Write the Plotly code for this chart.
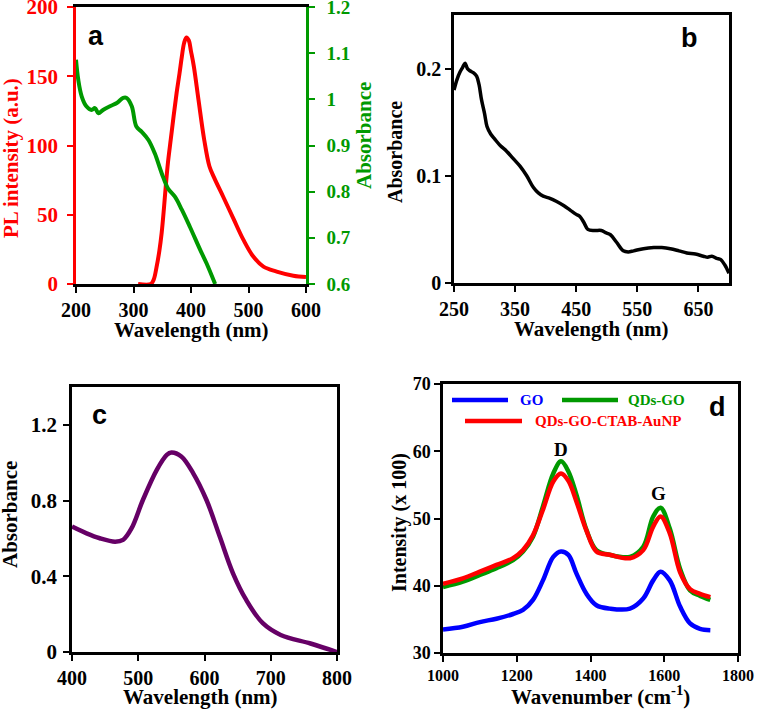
import plotly.graph_objects as go

# ---------------- data ----------------
# Panel a: PL emission (left axis) and absorbance (right axis)
pl_wl = [308, 330, 335, 340, 345, 349, 353, 356, 360, 365, 370, 375, 380, 384, 388, 392, 396, 400,
         405, 413, 423, 432, 440, 456, 474, 491, 508, 526, 549, 578, 600]
pl_int = [0, 0, 3, 12, 24, 37, 55, 70, 88, 105, 122, 138, 152, 164, 174, 178, 176, 168,
          157, 133, 104, 85, 77, 63, 47, 32, 20, 12.5, 9, 6, 5]
abs_a_wl = [200, 204, 210, 218, 227, 233, 239, 247, 259, 271, 282, 288, 297, 305, 314, 326,
            337, 349, 360, 372, 384, 398, 416, 427, 442]
abs_a = [1.086, 1.042, 1.006, 0.985, 0.977, 0.981, 0.970, 0.977, 0.985, 0.992, 1.003, 1.003,
         0.985, 0.941, 0.930, 0.912, 0.883, 0.840, 0.807, 0.789, 0.761, 0.724, 0.674, 0.645, 0.600]

# Panel b: absorbance
b_wl = [250, 255, 260, 264, 268, 272, 276, 282, 287, 291, 295, 300, 304, 310, 317, 326, 336,
        347, 358, 369, 380, 388, 396, 407, 418, 430, 440, 450, 456, 463, 469, 480, 491, 498,
        506, 516, 527, 535, 544, 560, 577, 590, 604, 618, 631, 645, 658, 665, 672, 680, 686,
        693, 700]
b_abs = [0.180, 0.190, 0.197, 0.201, 0.205, 0.200, 0.198, 0.196, 0.193, 0.185, 0.171, 0.158,
         0.146, 0.139, 0.134, 0.128, 0.123, 0.116, 0.109, 0.100, 0.089, 0.084, 0.081, 0.079,
         0.076, 0.072, 0.068, 0.064, 0.062, 0.056, 0.050, 0.049, 0.049, 0.047, 0.045, 0.038,
         0.030, 0.029, 0.030, 0.032, 0.033, 0.033, 0.032, 0.030, 0.028, 0.027, 0.025, 0.024,
         0.025, 0.023, 0.022, 0.017, 0.009]

# Panel c: absorbance
c_wl = [400, 422, 442, 465, 477, 490, 507, 528, 543, 550, 565, 583, 603, 623, 643, 663, 688,
        715, 760, 800]
c_abs = [0.663, 0.627, 0.601, 0.583, 0.592, 0.654, 0.803, 0.962, 1.041, 1.054, 1.033, 0.944,
         0.803, 0.610, 0.416, 0.275, 0.152, 0.090, 0.045, 0.0]

# Panel d: Raman spectra
d_wn = [1000, 1054, 1100, 1145, 1190, 1217, 1244, 1271, 1299, 1320, 1340, 1362, 1389, 1416,
        1452, 1507, 1543, 1570, 1590, 1615, 1643, 1670, 1697, 1725]
d_go = [33.5, 33.9, 34.6, 35.1, 35.8, 36.4, 37.9, 40.8, 44.3, 45.1, 44.6, 41.8, 38.8, 37.1,
        36.6, 36.6, 38.1, 40.8, 42.1, 40.8, 36.9, 34.4, 33.6, 33.4]
d_qdsgo = [39.8, 40.6, 41.6, 42.6, 43.8, 45.1, 47.3, 51.8, 56.7, 58.5, 57.0, 53.5, 48.3, 45.3,
           44.6, 44.3, 45.8, 50.3, 51.6, 48.5, 42.5, 39.3, 38.5, 37.9]
d_ctab = [40.3, 41.1, 42.1, 43.1, 44.1, 45.3, 47.5, 51.3, 55.5, 56.7, 55.6, 52.5, 48.2, 45.1,
          44.6, 44.1, 45.3, 48.8, 50.3, 47.8, 42.0, 39.5, 38.8, 38.3]

# ---------------- styling helpers ----------------
W, H = 758, 710
FONT = "Liberation Serif, Times New Roman, serif"
SANS = "Liberation Sans, Arial, sans-serif"
RED = "#ff0000"
GREEN = "#009900"
PURPLE = "#660066"
BLUE = "#0000ff"


def px(x):
    return x / W


def py(y):
    return 1 - y / H


def axis_common(color="black", size=20):
    return dict(
        showline=True, linecolor=color, linewidth=2.5,
        ticks="outside", ticklen=6, tickwidth=2, tickcolor=color,
        showgrid=False, zeroline=False, automargin=False, ticklabeloverflow="allow",
        tickfont=dict(family=FONT, size=size, color=color, weight="bold"),
    )


fig = go.Figure()

# Panel a
fig.add_trace(go.Scatter(x=pl_wl, y=pl_int, mode="lines", line=dict(color=RED, width=4, shape="spline"),
                         xaxis="x", yaxis="y", showlegend=False))
fig.add_trace(go.Scatter(x=abs_a_wl, y=abs_a, mode="lines", line=dict(color=GREEN, width=4, shape="spline"),
                         xaxis="x", yaxis="y2", showlegend=False))
# Panel b
fig.add_trace(go.Scatter(x=b_wl, y=b_abs, mode="lines", line=dict(color="black", width=3.5, shape="spline"),
                         xaxis="x3", yaxis="y3", showlegend=False))
# Panel c
fig.add_trace(go.Scatter(x=c_wl, y=c_abs, mode="lines", line=dict(color=PURPLE, width=4.5, shape="spline"),
                         xaxis="x4", yaxis="y4", showlegend=False))
# Panel d
fig.add_trace(go.Scatter(x=d_wn, y=d_go, mode="lines", line=dict(color=BLUE, width=4.5, shape="spline"),
                         xaxis="x5", yaxis="y5", showlegend=False))
fig.add_trace(go.Scatter(x=d_wn, y=d_qdsgo, mode="lines", line=dict(color=GREEN, width=4.5, shape="spline"),
                         xaxis="x5", yaxis="y5", showlegend=False))
fig.add_trace(go.Scatter(x=d_wn, y=d_ctab, mode="lines", line=dict(color=RED, width=4.5, shape="spline"),
                         xaxis="x5", yaxis="y5", showlegend=False))

layout = dict(
    width=W, height=H, margin=dict(l=0, r=0, t=0, b=0, autoexpand=False),
    paper_bgcolor="white", plot_bgcolor="white", showlegend=False, template="none",
)

# panel a axes
ax = axis_common()
ax.update(domain=[px(76), px(306)], range=[200, 600], tickvals=[200, 300, 400, 500, 600],
          mirror=True, anchor="y")
layout["xaxis"] = ax
ay = axis_common(RED, 21)
ay.update(domain=[py(284), py(7)], range=[0, 200], tickvals=[0, 50, 100, 150, 200], anchor="x",
          ticklabelstandoff=5)
layout["yaxis"] = ay
ay2 = axis_common(GREEN, 19)
ay2.update(overlaying="y", side="right", anchor="x", range=[0.6, 1.2], ticklabelstandoff=8,
           tickvals=[0.6, 0.7, 0.8, 0.9, 1.0, 1.1, 1.2], ticktext=["0.6", "0.7", "0.8", "0.9", "1", "1.1", "1.2"])
layout["yaxis2"] = ay2

# panel b axes
bx = axis_common()
bx.update(domain=[px(454), px(729)], range=[250, 700], tickvals=[250, 350, 450, 550, 650],
          mirror=True, anchor="y3")
layout["xaxis3"] = bx
by = axis_common()
by.update(domain=[py(283), py(15)], range=[0, 0.25], tickvals=[0, 0.1, 0.2], ticktext=["0", "0.1", "0.2"],
          mirror=True, anchor="x3")
layout["yaxis3"] = by

# panel c axes
cx = axis_common()
cx.update(domain=[px(72), px(337)], range=[400, 800], tickvals=[400, 500, 600, 700, 800],
          mirror=True, anchor="y4")
layout["xaxis4"] = cx
cy = axis_common(size=21)
cy.update(domain=[py(652), py(387)], range=[0, 1.4], tickvals=[0, 0.4, 0.8, 1.2], ticktext=["0", "0.4", "0.8", "1.2"],
          mirror=True, anchor="x4", ticklabelstandoff=2)
layout["yaxis4"] = cy

# panel d axes
dx = axis_common(size=16)
dx.update(domain=[px(443), px(738)], range=[1000, 1800], tickvals=[1000, 1200, 1400, 1600, 1800],
          mirror=True, anchor="y5")
layout["xaxis5"] = dx
dy = axis_common(size=18)
dy.update(domain=[py(653), py(384)], range=[30, 70], tickvals=[30, 40, 50, 60, 70],
          mirror=True, anchor="x5")
layout["yaxis5"] = dy

fig.update_layout(**layout)

# ---------------- text annotations ----------------
def ann(text, x, y, size=20, color="black", angle=0, family=FONT, bold=True):
    t = f"<b>{text}</b>" if bold else text
    fig.add_annotation(text=t, x=px(x), y=py(y), xref="paper", yref="paper", showarrow=False,
                       xanchor="center", yanchor="middle", textangle=angle,
                       font=dict(family=family, size=size, color=color))

# axis titles
ann("PL intensity (a.u.)", 11, 158, size=21, color=RED, angle=-90)
ann("Absorbance", 364, 136, size=21, color=GREEN, angle=-90)
ann("Wavelength (nm)", 191, 330, size=21)
ann("Absorbance", 395, 152, size=20, angle=-90)
ann("Wavelength (nm)", 591, 329, size=21)
ann("Absorbance", 10, 515, size=21, angle=-90)
ann("Wavelength (nm)", 200, 697, size=21)
ann("Intensity (x 100)", 399, 523, size=20, angle=-90)
ann("Wavenumber (cm<sup>-1</sup>)", 600, 695, size=21)

# panel letters
ann("a", 96, 36, size=27, family=SANS)
ann("b", 689, 38, size=27, family=SANS)
ann("c", 99, 415, size=27, family=SANS)
ann("d", 717, 407, size=27, family=SANS)

# peak labels in panel d
fig.add_annotation(text="<b>D</b>", x=1320, y=60.2, xref="x5", yref="y5", showarrow=False,
                   font=dict(family=FONT, size=19, color="black"))
fig.add_annotation(text="<b>G</b>", x=1585, y=53.7, xref="x5", yref="y5", showarrow=False,
                   font=dict(family=FONT, size=19, color="black"))

# legend of panel d (swatches + coloured labels)
legend_items = [
    ("GO", BLUE, 452, 508, 400, 531),
    ("QDs-GO", GREEN, 562, 618, 400, 656),
    ("QDs-GO-CTAB-AuNP", RED, 465, 522, 421, 608),
]
for name, col, x0, x1, yy, tx in legend_items:
    fig.add_shape(type="line", xref="paper", yref="paper", x0=px(x0), x1=px(x1), y0=py(yy), y1=py(yy),
                  line=dict(color=col, width=4.5))
    ann(name, tx, yy, size=15, color=col)

fig.write_html("out.html", config={"displayModeBar": False},
               post_script="document.body.style.margin='0px';document.body.style.overflow='hidden';")
